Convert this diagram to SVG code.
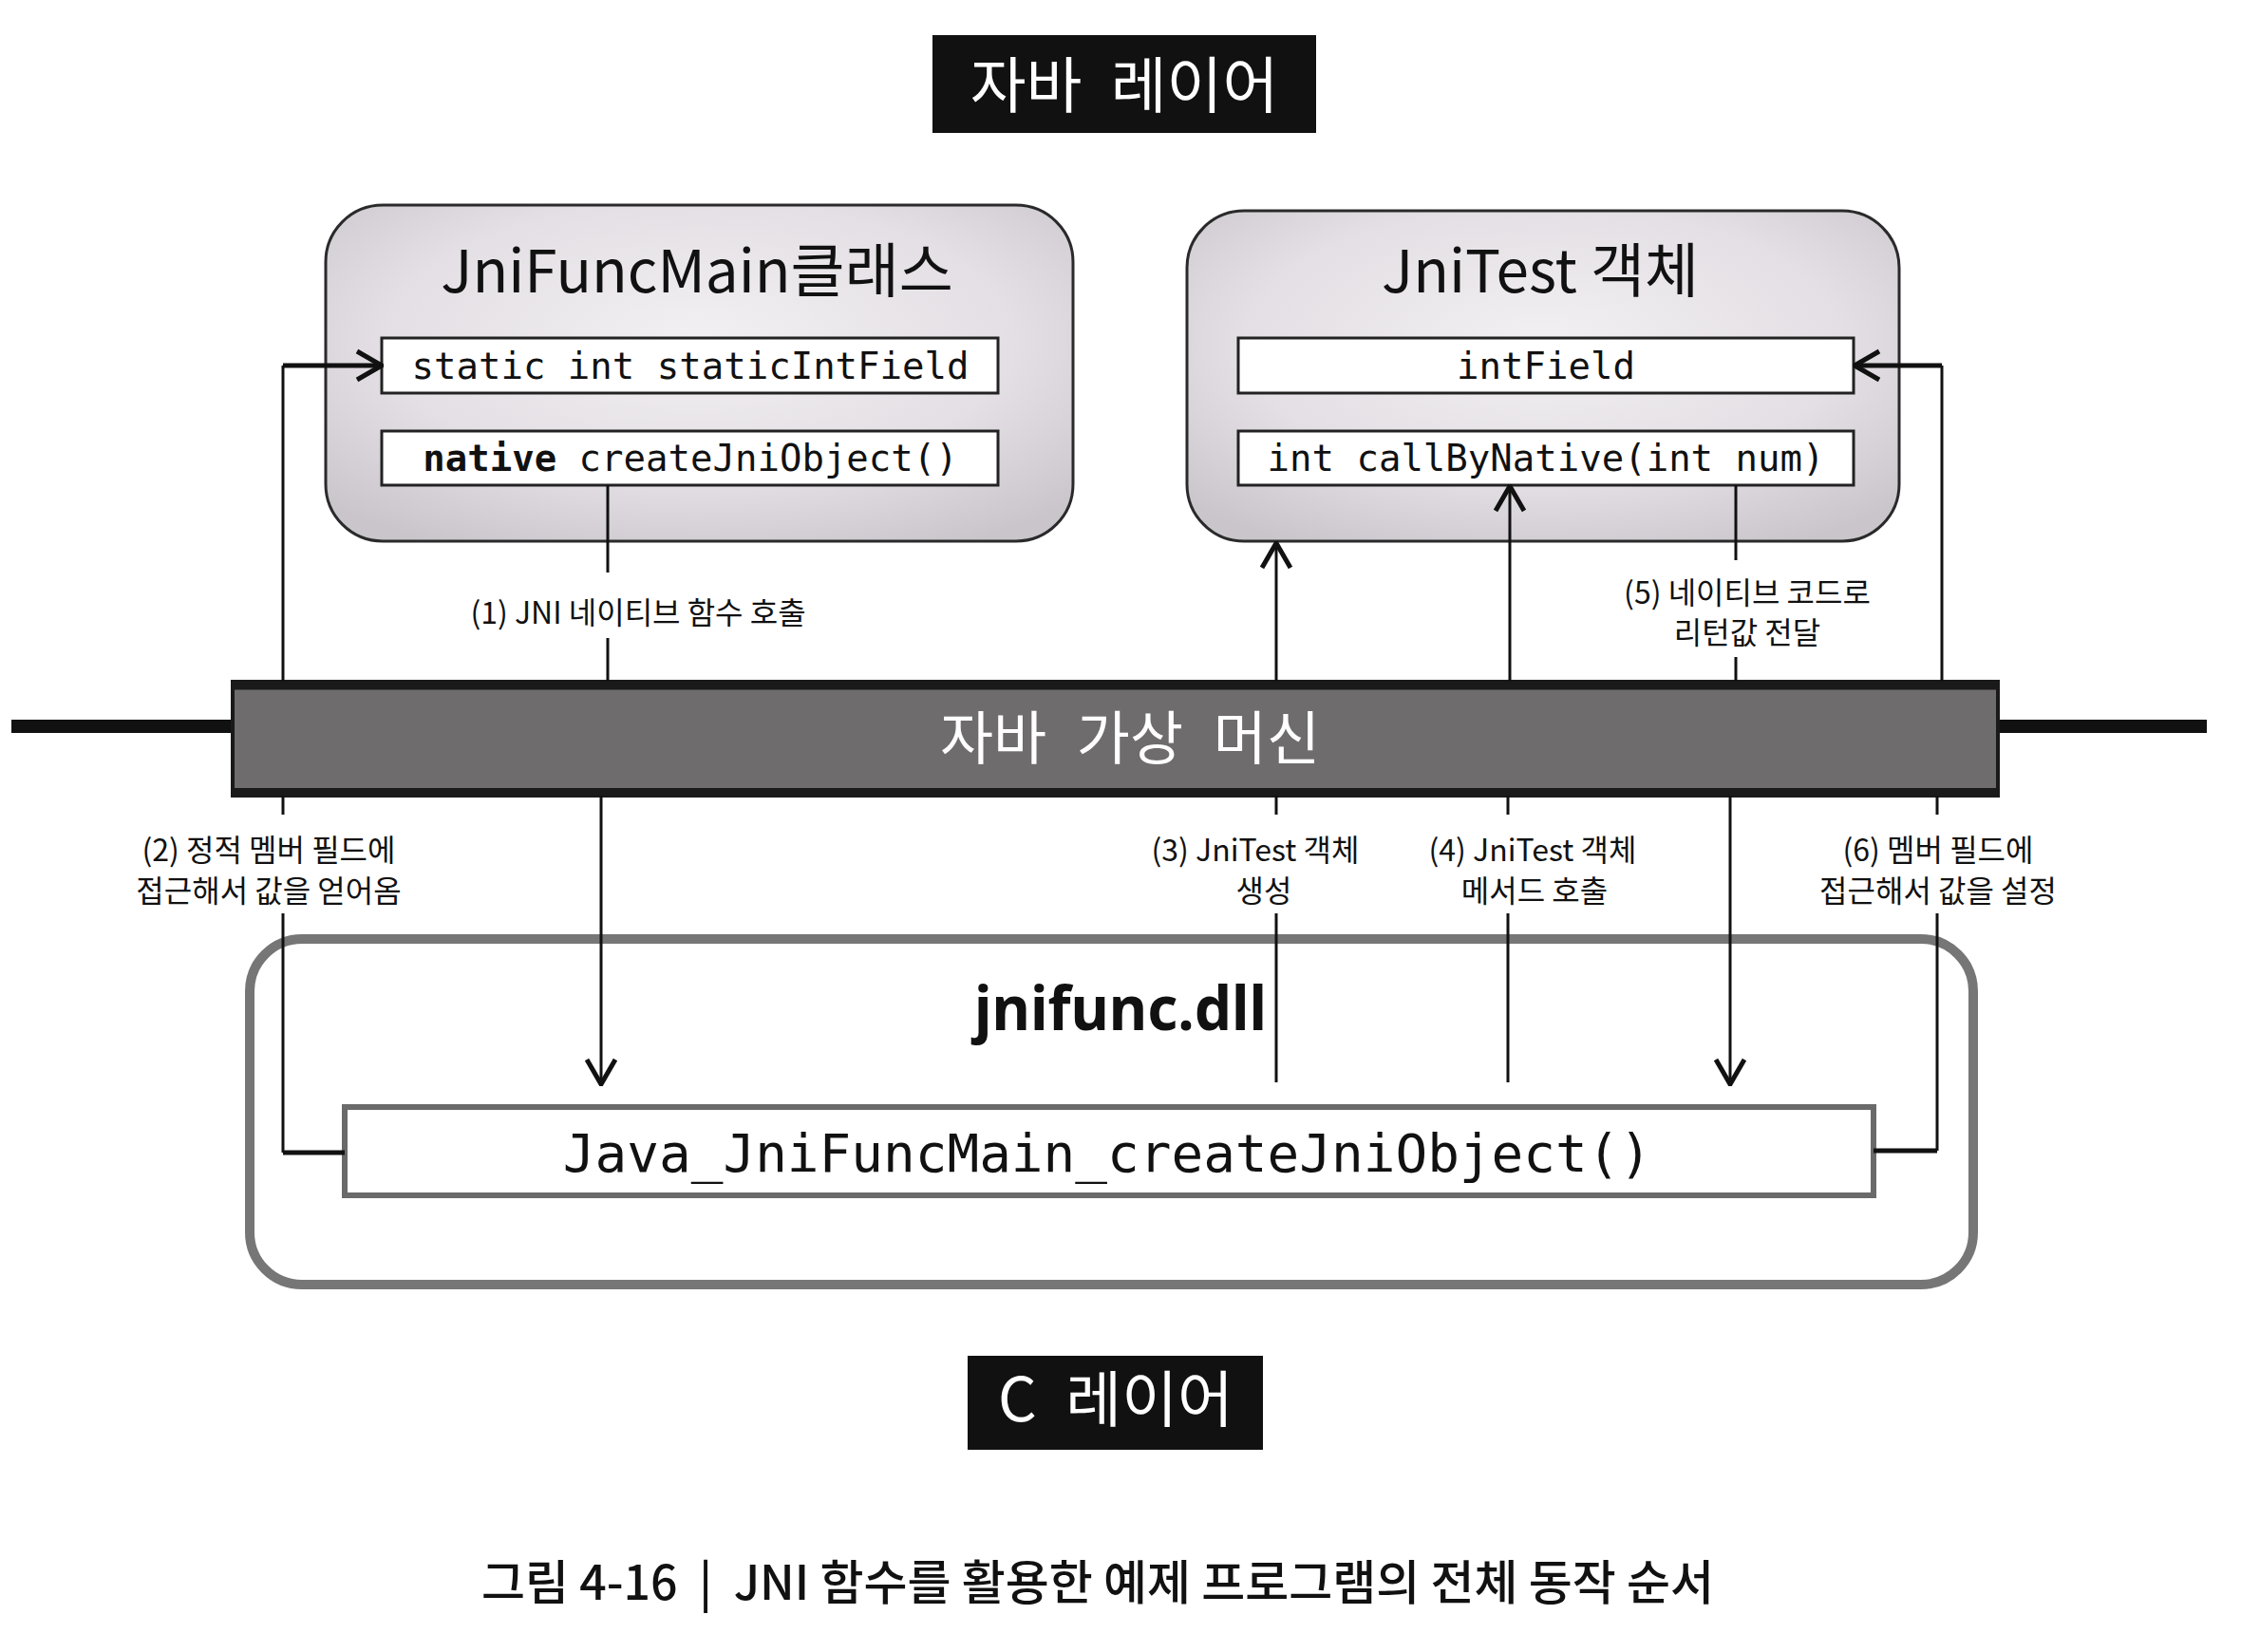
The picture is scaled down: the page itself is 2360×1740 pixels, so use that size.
<svg xmlns="http://www.w3.org/2000/svg" width="2360" height="1740" viewBox="0 0 2360 1740">
<defs>
  <radialGradient id="boxFill" cx="50%" cy="40%" r="70%">
    <stop offset="0" stop-color="#f3f0f3"/>
    <stop offset="0.6" stop-color="#e3dfe4"/>
    <stop offset="1" stop-color="#c9c5cb"/>
  </radialGradient>
  <marker id="arr" viewBox="0 0 30 36" refX="28" refY="18" markerWidth="30" markerHeight="36" markerUnits="userSpaceOnUse" orient="auto">
    <path d="M2,3 L28,18 L2,33" fill="none" stroke="#111" stroke-width="5"/>
  </marker>
</defs>
<style>
  .kr { font-family: "Noto Sans CJK KR", "Noto Sans", sans-serif; }
  .layer { fill: #111; }
  .layerTxt { fill: #fff; font-size: 64px; text-anchor: middle; word-spacing: 16px; }
  .objBox { fill: url(#boxFill); stroke: #2a2a2a; stroke-width: 3; }
  .title { font-size: 62px; fill: #111; text-anchor: middle; }
  .field { fill: #fff; stroke: #222; stroke-width: 3; }
  .mono { font-family: "DejaVu Sans Mono", "Liberation Mono", monospace; fill: #111; text-anchor: middle; }
  .lbl { font-size: 32px; fill: #111; text-anchor: middle; }
  .ln { fill: none; stroke: #111; stroke-width: 3; }
  .lnb { fill: none; stroke: #111; stroke-width: 5; }
</style>
<rect width="2360" height="1740" fill="#fff"/>

<g id="java-layer">
  <rect class="layer" x="982" y="37" width="404" height="103"/>
  <text class="kr layerTxt" x="1184" y="113">자바 레이어</text>
</g>

<g id="jnifuncmain">
  <rect class="objBox" x="343" y="216" width="787" height="354" rx="60"/>
  <text class="kr title" x="734" y="308">JniFuncMain클래스</text>
</g>
<g id="static-field">
  <rect class="field" x="402" y="356" width="649" height="58"/>
  <text class="mono" x="727" y="399" font-size="39">static int staticIntField</text>
</g>
<g id="native-method">
  <rect class="field" x="402" y="454" width="649" height="57"/>
  <text class="mono" x="727" y="496" font-size="39"><tspan font-weight="bold">native</tspan> createJniObject()</text>
</g>

<g id="jnitest">
  <rect class="objBox" x="1250" y="222" width="750" height="348" rx="60"/>
  <text class="kr title" x="1622" y="308">JniTest 객체</text>
</g>
<g id="int-field">
  <rect class="field" x="1304" y="356" width="648" height="58"/>
  <text class="mono" x="1628" y="399" font-size="39">intField</text>
</g>
<g id="callbynative">
  <rect class="field" x="1304" y="454" width="648" height="57"/>
  <text class="mono" x="1628" y="496" font-size="39">int callByNative(int num)</text>
</g>

<g id="jvm">
  <line x1="12" y1="765" x2="245" y2="765" stroke="#111" stroke-width="14"/>
  <line x1="2104" y1="765" x2="2324" y2="765" stroke="#111" stroke-width="14"/>
  <rect x="245" y="718" width="1859" height="120" fill="#6e6c6d" stroke="#1a1a1a" stroke-width="4"/>
  <line x1="245" y1="722" x2="2104" y2="722" stroke="#1a1a1a" stroke-width="9"/>
  <line x1="245" y1="834" x2="2104" y2="834" stroke="#1a1a1a" stroke-width="8"/>
  <text class="kr" x="1190" y="800" font-size="61" fill="#fff" text-anchor="middle" word-spacing="18">자바 가상 머신</text>
</g>

<g id="jnifunc-dll">
  <rect x="263" y="989" width="1815" height="364" rx="55" fill="none" stroke="#767676" stroke-width="10"/>
  <text x="1180" y="1085" font-family="Noto Sans, Liberation Sans, sans-serif" font-weight="bold" font-size="64" fill="#111" text-anchor="middle" textLength="308" lengthAdjust="spacingAndGlyphs">jnifunc.dll</text>
</g>
<g id="java-native-func">
  <rect x="363" y="1166" width="1610" height="93" fill="#fff" stroke="#6a6a6a" stroke-width="6"/>
  <text class="mono" x="1166" y="1234" font-size="56">Java_JniFuncMain_createJniObject()</text>
</g>

<g id="c-layer">
  <rect class="layer" x="1019" y="1428" width="311" height="99"/>
  <text class="layerTxt" x="1175" y="1497" font-family="Noto Sans CJK KR, Noto Sans, sans-serif">C 레이어</text>
</g>

<g id="connectors">
  <!-- (1) -->
  <path class="ln" d="M640 511 V603 M640 672 V718"/>
  <path class="ln" d="M633 838 V1142" marker-end="url(#arr)"/>
  <!-- (2) -->
  <path class="lnb" d="M363 1214 H298"/>
  <path class="ln" d="M298 1214 V962 M298 838 V858 M298 718 V385"/>
  <path class="lnb" d="M298 385 H402" marker-end="url(#arr)"/>
  <!-- (3) -->
  <path class="ln" d="M1344 1140 V962 M1344 858 V838"/>
  <path class="ln" d="M1344 718 V572" marker-end="url(#arr)"/>
  <!-- (4) -->
  <path class="ln" d="M1588 1140 V962 M1588 858 V838"/>
  <path class="ln" d="M1590 718 V512" marker-end="url(#arr)"/>
  <!-- (5) -->
  <path class="ln" d="M1828 511 V590 M1828 692 V718"/>
  <path class="ln" d="M1822 838 V1142" marker-end="url(#arr)"/>
  <!-- (6) -->
  <path class="lnb" d="M1973 1212 H2040"/>
  <path class="ln" d="M2040 1212 V962 M2040 838 V858 M2045 718 V385"/>
  <path class="lnb" d="M2045 385 H1953" marker-end="url(#arr)"/>

  <text class="kr lbl" x="672" y="657">(1) JNI 네이티브 함수 호출</text>
  <text class="kr lbl" x="283" y="907">(2) 정적 멤버 필드에<tspan x="283" y="950">접근해서 값을 얻어옴</tspan></text>
  <text class="kr lbl" x="1322" y="907">(3) JniTest 객체<tspan x="1331" y="950">생성</tspan></text>
  <text class="kr lbl" x="1614" y="907">(4) JniTest 객체<tspan x="1616" y="950">메서드 호출</tspan></text>
  <text class="kr lbl" x="1840" y="636">(5) 네이티브 코드로<tspan x="1840" y="678">리턴값 전달</tspan></text>
  <text class="kr lbl" x="2041" y="907">(6) 멤버 필드에<tspan x="2041" y="950">접근해서 값을 설정</tspan></text>
</g>

<g id="caption">
  <text class="kr" x="1156" y="1685" font-size="50" font-weight="500" fill="#111" text-anchor="middle" xml:space="preserve">그림 4-16  |  JNI 함수를 활용한 예제 프로그램의 전체 동작 순서</text>
</g>
</svg>
